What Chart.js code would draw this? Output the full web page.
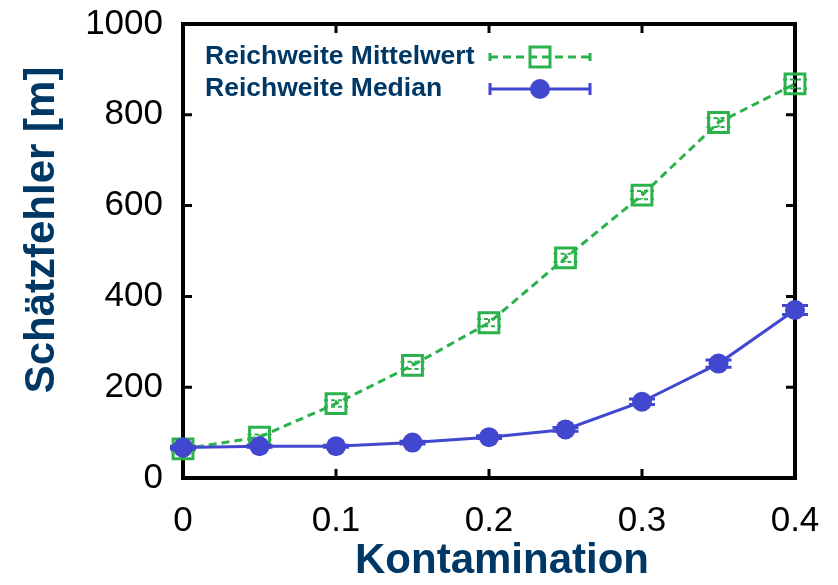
<!DOCTYPE html>
<html>
<head>
<meta charset="utf-8">
<script src="https://cdn.jsdelivr.net/npm/chart.js@4.4.1/dist/chart.umd.min.js"></script>
<style>
  body { margin: 0; background: #fff; }
  #wrap { width: 838px; height: 585px; }
</style>
</head>
<body>
<div id="wrap"><canvas id="errChart" width="838" height="585"></canvas></div>
<script>
const kontamination = [0, 0.05, 0.1, 0.15, 0.2, 0.25, 0.3, 0.35, 0.4];
const mittelwert = [64, 90, 164, 248, 342, 485, 623, 783, 868];
const mittelwertErr = [5, 6, 7, 8, 8, 9, 9, 10, 10];
const median = [67, 70, 70, 78, 90, 107, 168, 252, 370];
const medianErr = [3, 2, 2, 3, 3, 4, 6, 8, 10];
const xTicks = [0, 0.1, 0.2, 0.3, 0.4];
const xTickLabels = ['0', '0.1', '0.2', '0.3', '0.4'];
const yTicks = [0, 200, 400, 600, 800, 1000];
const yTickLabels = ['0', '200', '400', '600', '800', '1000'];
const seriesLabels = ['Reichweite Mittelwert', 'Reichweite Median'];
const xTitle = 'Kontamination';
const yTitle = 'Schätzfehler [m]';

const green = '#2bb24c';
const blue = '#4247cf';
const navy = '#003865';
const FONT = "'Liberation Sans', Arial, sans-serif";

// frame with inward ticks on all four sides (gnuplot look)
const framePlugin = {
    id: 'frame',
    beforeDatasetsDraw(chart) {
        const ctx = chart.ctx;
        const a = chart.chartArea;
        const xs = chart.scales.x, ys = chart.scales.y;
        ctx.save();
        ctx.strokeStyle = '#000';
        ctx.lineWidth = 3;
        xTicks.forEach(v => {
            const px = xs.getPixelForValue(v);
            ctx.beginPath();
            ctx.moveTo(px, a.bottom); ctx.lineTo(px, a.bottom - 9);
            ctx.moveTo(px, a.top); ctx.lineTo(px, a.top + 9);
            ctx.stroke();
        });
        yTicks.forEach(v => {
            const py = ys.getPixelForValue(v);
            ctx.beginPath();
            ctx.moveTo(a.left, py); ctx.lineTo(a.left + 9, py);
            ctx.moveTo(a.right, py); ctx.lineTo(a.right - 9, py);
            ctx.stroke();
        });
        ctx.lineWidth = 4;
        ctx.strokeRect(a.left, a.top, a.right - a.left, a.bottom - a.top);
        ctx.restore();
    }
};

// vertical error bars with caps
const errorBarPlugin = {
    id: 'errorBars',
    afterDatasetDraw(chart, args) {
        const ds = chart.data.datasets[args.index];
        if (!ds.errors) return;
        const ctx = chart.ctx;
        const ys = chart.scales.y;
        ctx.save();
        ctx.strokeStyle = ds.borderColor;
        ctx.lineWidth = ds.errWidth;
        ctx.setLineDash(ds.errDash);
        args.meta.data.forEach((pt, i) => {
            const hi = ys.getPixelForValue(ds.data[i] + ds.errors[i]);
            const lo = ys.getPixelForValue(ds.data[i] - ds.errors[i]);
            const w = ds.capWidth;
            ctx.beginPath();
            ctx.moveTo(pt.x, hi); ctx.lineTo(pt.x, lo);
            ctx.moveTo(pt.x - w, hi); ctx.lineTo(pt.x + w, hi);
            ctx.moveTo(pt.x - w, lo); ctx.lineTo(pt.x + w, lo);
            ctx.stroke();
        });
        ctx.restore();
    }
};

// legend + axis titles
const textPlugin = {
    id: 'texts',
    afterDraw(chart) {
        const ctx = chart.ctx;
        const a = chart.chartArea;
        ctx.save();
        ctx.fillStyle = navy;
        ctx.font = 'bold 42px ' + FONT;
        ctx.textAlign = 'center';
        ctx.textBaseline = 'middle';
        ctx.fillText(xTitle, (a.left + a.right) / 2 + 13, 561);
        ctx.save();
        ctx.translate(42, (a.top + a.bottom) / 2 - 21);
        ctx.rotate(-Math.PI / 2);
        ctx.fillText(yTitle, 0, 0);
        ctx.restore();

        // legend
        ctx.font = 'bold 26.5px ' + FONT;
        ctx.textAlign = 'left';
        const rows = [57, 89];
        const x0 = 490, x1 = 590, xm = 540;
        ctx.fillText(seriesLabels[0], 205, rows[0]);
        ctx.fillText(seriesLabels[1], 205, rows[1]);

        ctx.strokeStyle = green;
        ctx.lineWidth = 3;
        ctx.setLineDash([8, 5]);
        ctx.beginPath();
        ctx.moveTo(x0, rows[0]); ctx.lineTo(x1, rows[0]);
        ctx.stroke();
        ctx.setLineDash([]);
        ctx.beginPath();
        ctx.moveTo(x0, rows[0] - 4); ctx.lineTo(x0, rows[0] + 4);
        ctx.moveTo(x1, rows[0] - 4); ctx.lineTo(x1, rows[0] + 4);
        ctx.stroke();
        ctx.strokeRect(xm - 10, rows[0] - 10, 20, 20);

        ctx.strokeStyle = blue;
        ctx.fillStyle = blue;
        ctx.beginPath();
        ctx.moveTo(x0, rows[1]); ctx.lineTo(x1, rows[1]);
        ctx.moveTo(x0, rows[1] - 6); ctx.lineTo(x0, rows[1] + 6);
        ctx.moveTo(x1, rows[1] - 6); ctx.lineTo(x1, rows[1] + 6);
        ctx.stroke();
        ctx.beginPath();
        ctx.arc(xm, rows[1], 10, 0, Math.PI * 2);
        ctx.fill();
        ctx.restore();
    }
};

function noPadding(scale) {
    scale.paddingLeft = 0;
    scale.paddingRight = 0;
    scale.paddingTop = 0;
    scale.paddingBottom = 0;
}

const ctx = document.getElementById('errChart').getContext('2d');
new Chart(ctx, {
    type: 'line',
    data: {
        datasets: [
            {
                label: seriesLabels[0],
                data: mittelwert,
                errors: mittelwertErr,
                errWidth: 2,
                errDash: [4, 3],
                capWidth: 12,
                borderColor: green,
                borderWidth: 3,
                borderDash: [8, 5],
                pointStyle: 'rect',
                pointRadius: 14,
                pointBorderWidth: 3,
                pointBorderColor: green,
                pointBackgroundColor: 'rgba(0,0,0,0)',
                clip: false,
                order: 1
            },
            {
                label: seriesLabels[1],
                data: median,
                errors: medianErr,
                errWidth: 3,
                errDash: [],
                capWidth: 13,
                borderColor: blue,
                borderWidth: 3,
                pointStyle: 'circle',
                pointRadius: 10,
                pointBorderWidth: 0,
                pointBackgroundColor: blue,
                clip: false,
                order: 0
            }
        ],
        labels: kontamination
    },
    options: {
        responsive: false,
        animation: false,
        devicePixelRatio: 1,
        layout: { padding: { left: 0, right: 43, top: 24, bottom: 0 } },
        plugins: { legend: { display: false }, tooltip: { enabled: false } },
        scales: {
            x: {
                type: 'linear',
                min: 0,
                max: 0.4,
                afterBuildTicks: s => { s.ticks = xTicks.map(v => ({ value: v })); },
                afterFit: s => { s.height = 107; noPadding(s); },
                grid: { display: false },
                border: { display: false },
                ticks: {
                    padding: 14,
                    color: '#000',
                    font: { family: FONT, size: 35 },
                    maxRotation: 0,
                    callback: (v, i) => xTickLabels[i]
                }
            },
            y: {
                min: 0,
                max: 1000,
                afterBuildTicks: s => { s.ticks = yTicks.map(v => ({ value: v })); },
                afterFit: s => { s.width = 183; noPadding(s); },
                grid: { display: false },
                border: { display: false },
                ticks: {
                    padding: 12,
                    color: '#000',
                    font: { family: FONT, size: 35 },
                    callback: (v, i) => yTickLabels[i]
                }
            }
        }
    },
    plugins: [framePlugin, errorBarPlugin, textPlugin]
});
</script>
</body>
</html>
